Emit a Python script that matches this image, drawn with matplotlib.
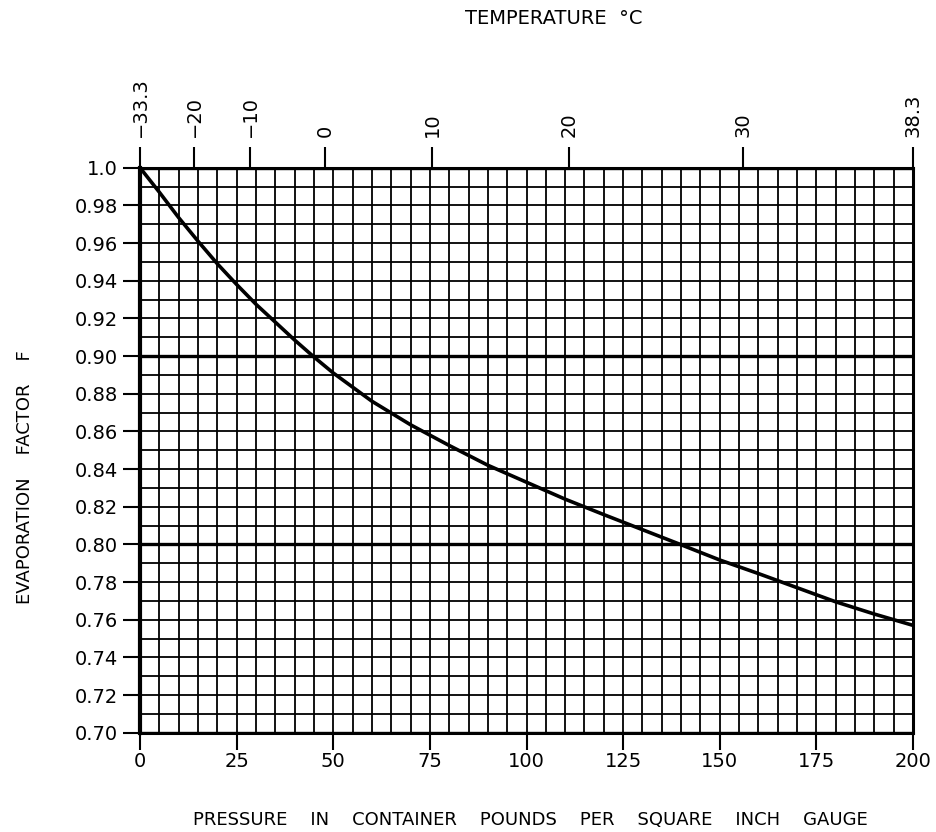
import matplotlib
matplotlib.use("Agg")
import matplotlib.pyplot as plt
import numpy as np

# ---- data ----
pressure_psig = [0, 5, 10, 15, 20, 25, 30, 35, 40, 45, 50, 60, 70, 80, 90,
                 100, 110, 120, 130, 140, 150, 160, 170, 180, 190, 200]
evap_factor = [1.0, 0.987, 0.9735, 0.961, 0.949, 0.938, 0.9275, 0.918, 0.9085,
               0.8995, 0.891, 0.876, 0.8635, 0.8525, 0.842, 0.833, 0.824, 0.8158,
               0.8078, 0.7998, 0.7917, 0.7845, 0.777, 0.7695, 0.763, 0.757]

x_tick_values = [0, 25, 50, 75, 100, 125, 150, 175, 200]
x_tick_labels = ["0", "25", "50", "75", "100", "125", "150", "175", "200"]
y_tick_values = [0.70, 0.72, 0.74, 0.76, 0.78, 0.80, 0.82, 0.84, 0.86, 0.88,
                 0.90, 0.92, 0.94, 0.96, 0.98, 1.0]
y_tick_labels = ["0.70", "0.72", "0.74", "0.76", "0.78", "0.80", "0.82", "0.84",
                 "0.86", "0.88", "0.90", "0.92", "0.94", "0.96", "0.98", "1.0"]
temp_positions = [0, 14.0, 28.5, 47.9, 75.6, 111.1, 156.1, 200]
temp_labels = ["\u221233.3", "\u221220", "\u221210", "0", "10", "20", "30", "38.3"]
heavy_y = [0.70, 0.80, 0.90, 1.0]

plt.rcParams['font.family'] = ['DejaVu Sans']

fig = plt.figure(figsize=(9.37, 8.32), dpi=100)
ax = fig.add_axes([140/937, 1-732.7/832, (913-140)/937, (732.7-167.7)/832])

ax.set_xlim(0, 200)
ax.set_ylim(0.70, 1.0)

# grid
ax.set_xticks(x_tick_values)
ax.set_xticklabels(x_tick_labels, fontsize=14)
ax.set_xticks(np.arange(0, 201, 5), minor=True)
ax.set_yticks(y_tick_values)
ax.set_yticklabels(y_tick_labels, fontsize=14)
ax.set_yticks(np.arange(0.70, 1.0001, 0.01), minor=True)
ax.grid(True, which='both', color='black', linewidth=1.3)
ax.tick_params(which='minor', length=0)
ax.tick_params(which='major', length=12, width=1.5, color='black')
ax.tick_params(axis='y', which='major', pad=4)
ax.tick_params(axis='x', which='major', pad=2)
for yv in heavy_y:
    ax.axhline(yv, color='black', linewidth=2.4, zorder=2)

for side in ['left', 'bottom', 'right', 'top']:
    ax.spines[side].set_linewidth(2.2)
ax.spines['left'].set_linewidth(3)

ax.plot(pressure_psig, evap_factor, color='black', linewidth=2.6, zorder=3,
        solid_joinstyle='round')

# top temperature axis
ax2 = ax.twiny()
ax2.set_xlim(0, 200)
ax2.set_xticks(temp_positions)
ax2.set_xticklabels(temp_labels, rotation=90, fontsize=14)
ax2.tick_params(axis='x', length=15, width=1.5, pad=7)
for side in ['left', 'bottom', 'right', 'top']:
    ax2.spines[side].set_visible(False)

fig.text(554/937, 1-18/832, "TEMPERATURE  \u00b0C", ha='center', va='center', fontsize=14)
fig.text(25/937, 1-477/832, "EVAPORATION    FACTOR    F", ha='center', va='center',
         rotation=90, fontsize=13)
fig.text(530/937, 1-820/832,
         "PRESSURE    IN    CONTAINER    POUNDS    PER    SQUARE    INCH    GAUGE",
         ha='center', va='center', fontsize=13)

fig.savefig("out.png", dpi=100, facecolor='white')
